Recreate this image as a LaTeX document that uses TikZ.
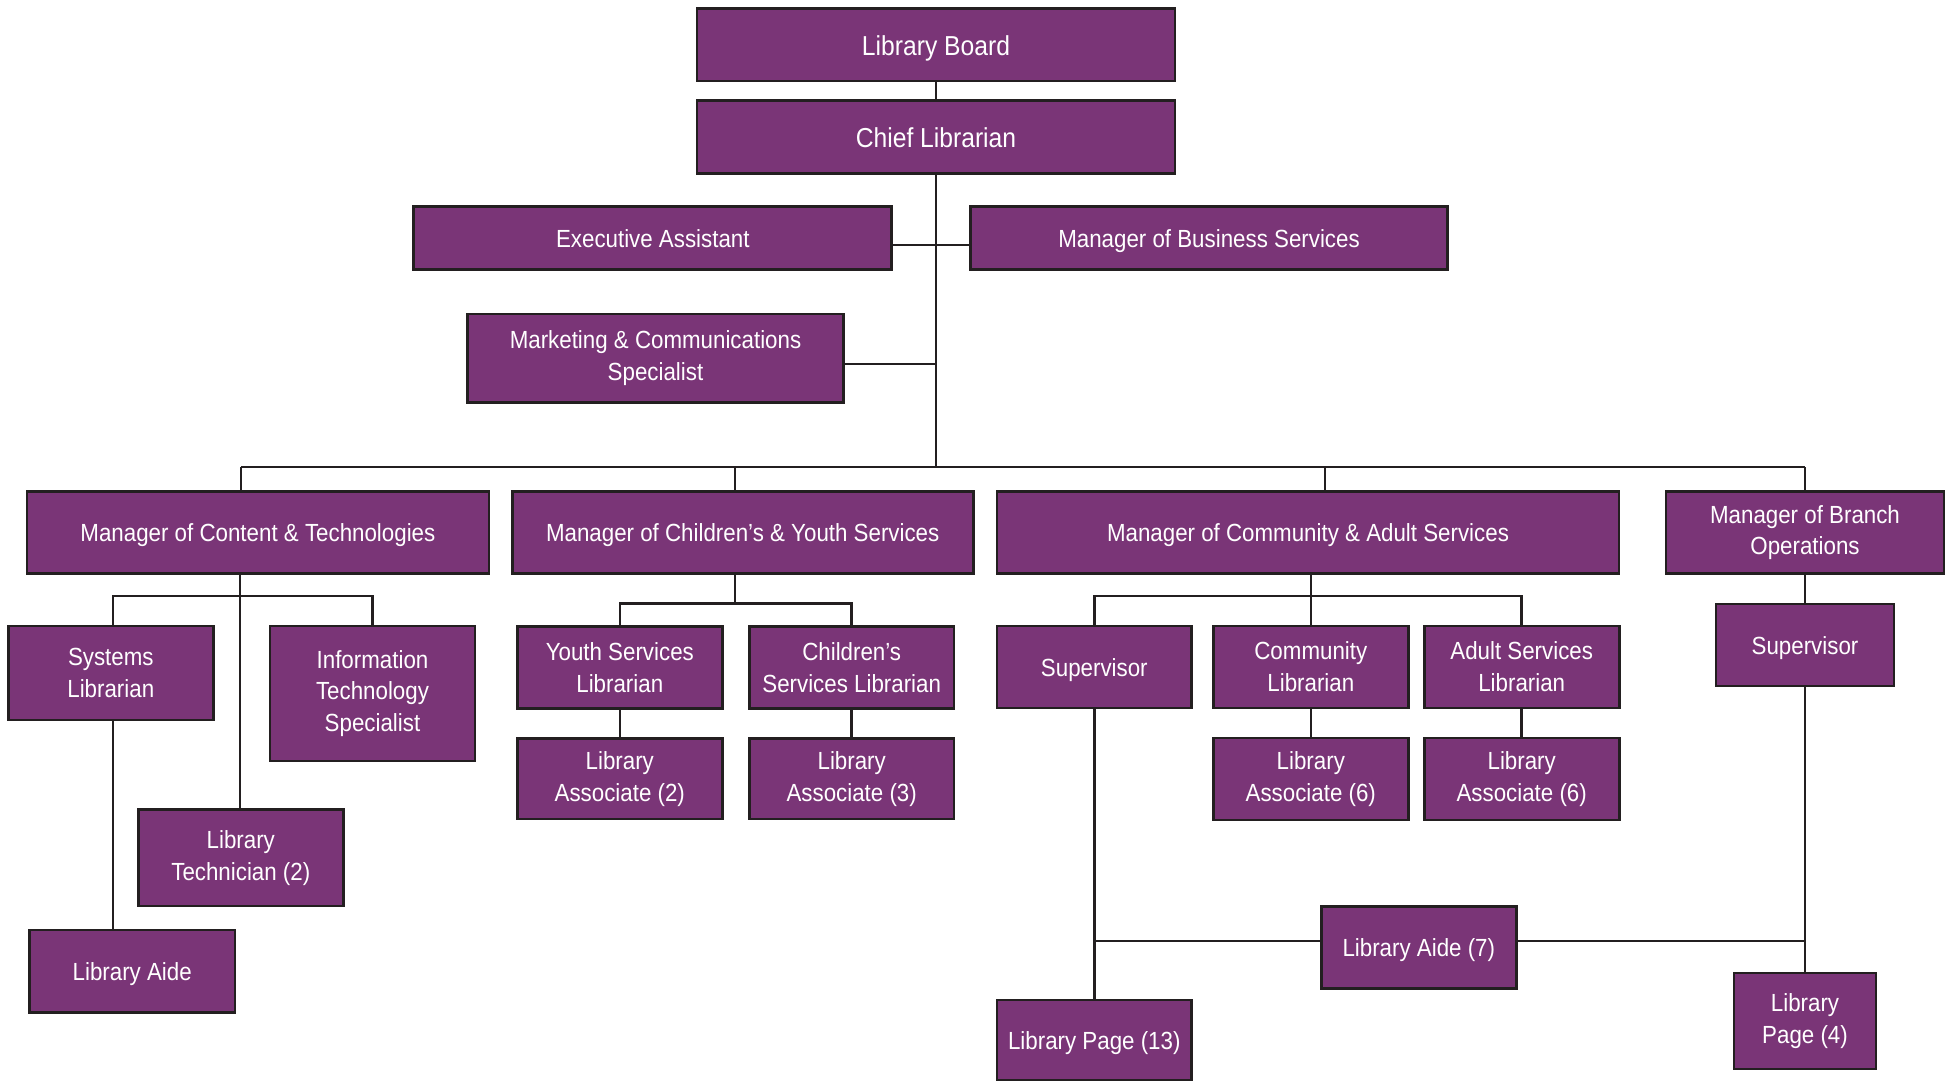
\documentclass[tikz,border=0pt]{standalone}
\usepackage{fontspec}
\setmainfont[FakeStretch=0.9]{Liberation Sans}
\definecolor{purp}{HTML}{7A3577}
\definecolor{edge}{HTML}{231F20}
\begin{document}
\begin{tikzpicture}[x=0.5pt,y=-0.5pt,
  box/.style={draw=edge, fill=purp, line width=1.4pt, text=white, align=center,
    inner sep=0pt, font=\fontsize{12.4}{15.9}\selectfont},
  one/.style={text height=9.4pt, text depth=0pt},
  bigbox/.style={box, one, text height=10.6pt, font=\fontsize{13.7}{16}\selectfont},
  conn/.style={draw=edge, line width=1.3pt}]
\useasboundingbox[fill=white] (0,0) rectangle (1954,1081);

% nodes
\node[bigbox, minimum width=239pt, minimum height=36.3pt] (board) at (936,44.7) {Library Board};
\node[bigbox, minimum width=239pt, minimum height=36.3pt] (chief) at (936,137) {Chief Librarian};
\node[box, one, minimum width=239pt, minimum height=31.3pt] (exec) at (652.8,238) {Executive Assistant};
\node[box, one, minimum width=238.6pt, minimum height=31.3pt] (mbs) at (1209,238) {Manager of Business Services};
\node[box, minimum width=188pt, minimum height=44.2pt] (mkt) at (655.5,358.2) {Marketing \& Communications\\Specialist};

\node[box, one, minimum width=231pt, minimum height=40.8pt] (mct) at (257.9,532.5) {Manager of Content \& Technologies};
\node[box, one, minimum width=230.5pt, minimum height=40.8pt] (mcy) at (742.7,532.5) {Manager of Children’s \& Youth Services};
\node[box, one, minimum width=311pt, minimum height=40.8pt] (mca) at (1308,532.5) {Manager of Community \& Adult Services};
\node[box, minimum width=139pt, minimum height=40.8pt] (mbo) at (1805,532.5) {Manager of Branch\\Operations};

\node[box, minimum width=102.5pt, minimum height=47pt] (syslib) at (110.8,673) {Systems\\Librarian};
\node[box, minimum width=102.5pt, minimum height=67.5pt] (its) at (372.5,693.5) {Information\\Technology\\Specialist};
\node[box, minimum width=102.5pt, minimum height=48.3pt] (libtech) at (240.8,857.7) {Library\\Technician (2)};
\node[box, one, minimum width=102.8pt, minimum height=41.2pt] (aide1) at (132.2,971.2) {Library Aide};

\node[box, minimum width=102.5pt, minimum height=40.8pt] (yslib) at (619.8,667.5) {Youth Services\\Librarian};
\node[box, minimum width=102.3pt, minimum height=40.8pt] (cslib) at (851.7,667.5) {Children’s\\Services Librarian};
\node[box, minimum width=102.5pt, minimum height=40.3pt] (la2) at (619.8,778.7) {Library\\Associate (2)};
\node[box, minimum width=102.3pt, minimum height=40.3pt] (la3) at (851.7,778.7) {Library\\Associate (3)};

\node[box, one, minimum width=97.3pt, minimum height=41pt] (sup1) at (1094.3,667) {Supervisor};
\node[box, minimum width=97.3pt, minimum height=41pt] (comlib) at (1310.8,667) {Community\\Librarian};
\node[box, minimum width=97.6pt, minimum height=41pt] (adlib) at (1521.7,667) {Adult Services\\Librarian};
\node[box, minimum width=97.3pt, minimum height=41pt] (la6a) at (1310.8,779) {Library\\Associate (6)};
\node[box, minimum width=97.6pt, minimum height=41pt] (la6b) at (1521.7,779) {Library\\Associate (6)};
\node[box, one, minimum width=97.3pt, minimum height=40.8pt] (aide7) at (1418.8,947.5) {Library Aide (7)};
\node[box, one, minimum width=97.3pt, minimum height=40pt] (page13) at (1094.3,1040) {Library Page (13)};

\node[box, one, minimum width=89pt, minimum height=41pt] (sup2) at (1805,645) {Supervisor};
\node[box, minimum width=71pt, minimum height=48pt] (page4) at (1805,1021) {Library\\Page (4)};

% junction coordinates
\coordinate (jstaff) at (936,245);
\coordinate (jmkt) at (936,364);
\coordinate (bus) at (936,467);
\coordinate (b1) at (241,467);
\coordinate (b2) at (735,467);
\coordinate (b3) at (1325,467);
\coordinate (b4) at (1805,467);
\coordinate (ct) at (240,596);
\coordinate (ctl) at (113,596);
\coordinate (ctr) at (372.5,596);
\coordinate (cy) at (735,603.5);
\coordinate (cyl) at (619.8,603.5);
\coordinate (cyr) at (851.7,603.5);
\coordinate (ca) at (1310.8,596);
\coordinate (cal) at (1094.3,596);
\coordinate (car) at (1521.7,596);
\coordinate (ja) at (1094.3,941);
\coordinate (jb) at (1805,941);

% connectors
\draw[conn] (board) -- (chief);
\draw[conn] (chief.south) -- (bus);
\draw[conn] (exec.east |- jstaff) -- (mbs.west |- jstaff);
\draw[conn] (mkt.east |- jmkt) -- (jmkt);
\draw[conn] (b1) -- (b4);
\draw[conn] (b1) -- (b1 |- mct.north);
\draw[conn] (b2) -- (b2 |- mcy.north);
\draw[conn] (b3) -- (b3 |- mca.north);
\draw[conn] (b4) -- (mbo.north);

\draw[conn] (ct |- mct.south) -- (ct |- libtech.north);
\draw[conn] (ctl |- syslib.north) -- (ctl) -- (ctr) -- (ctr |- its.north);
\draw[conn] (ctl |- syslib.south) -- (ctl |- aide1.north);

\draw[conn] (cy |- mcy.south) -- (cy);
\draw[conn] (cyl |- yslib.north) -- (cyl) -- (cyr) -- (cyr |- cslib.north);
\draw[conn] (yslib) -- (la2);
\draw[conn] (cslib) -- (la3);

\draw[conn] (ca |- mca.south) -- (comlib.north);
\draw[conn] (sup1.north) -- (cal) -- (car) -- (adlib.north);
\draw[conn] (comlib) -- (la6a);
\draw[conn] (adlib) -- (la6b);
\draw[conn] (sup1) -- (page13);
\draw[conn] (ja) -- (aide7.west |- ja);
\draw[conn] (aide7.east |- jb) -- (jb);

\draw[conn] (mbo) -- (sup2);
\draw[conn] (sup2) -- (page4);
\end{tikzpicture}
\end{document}
